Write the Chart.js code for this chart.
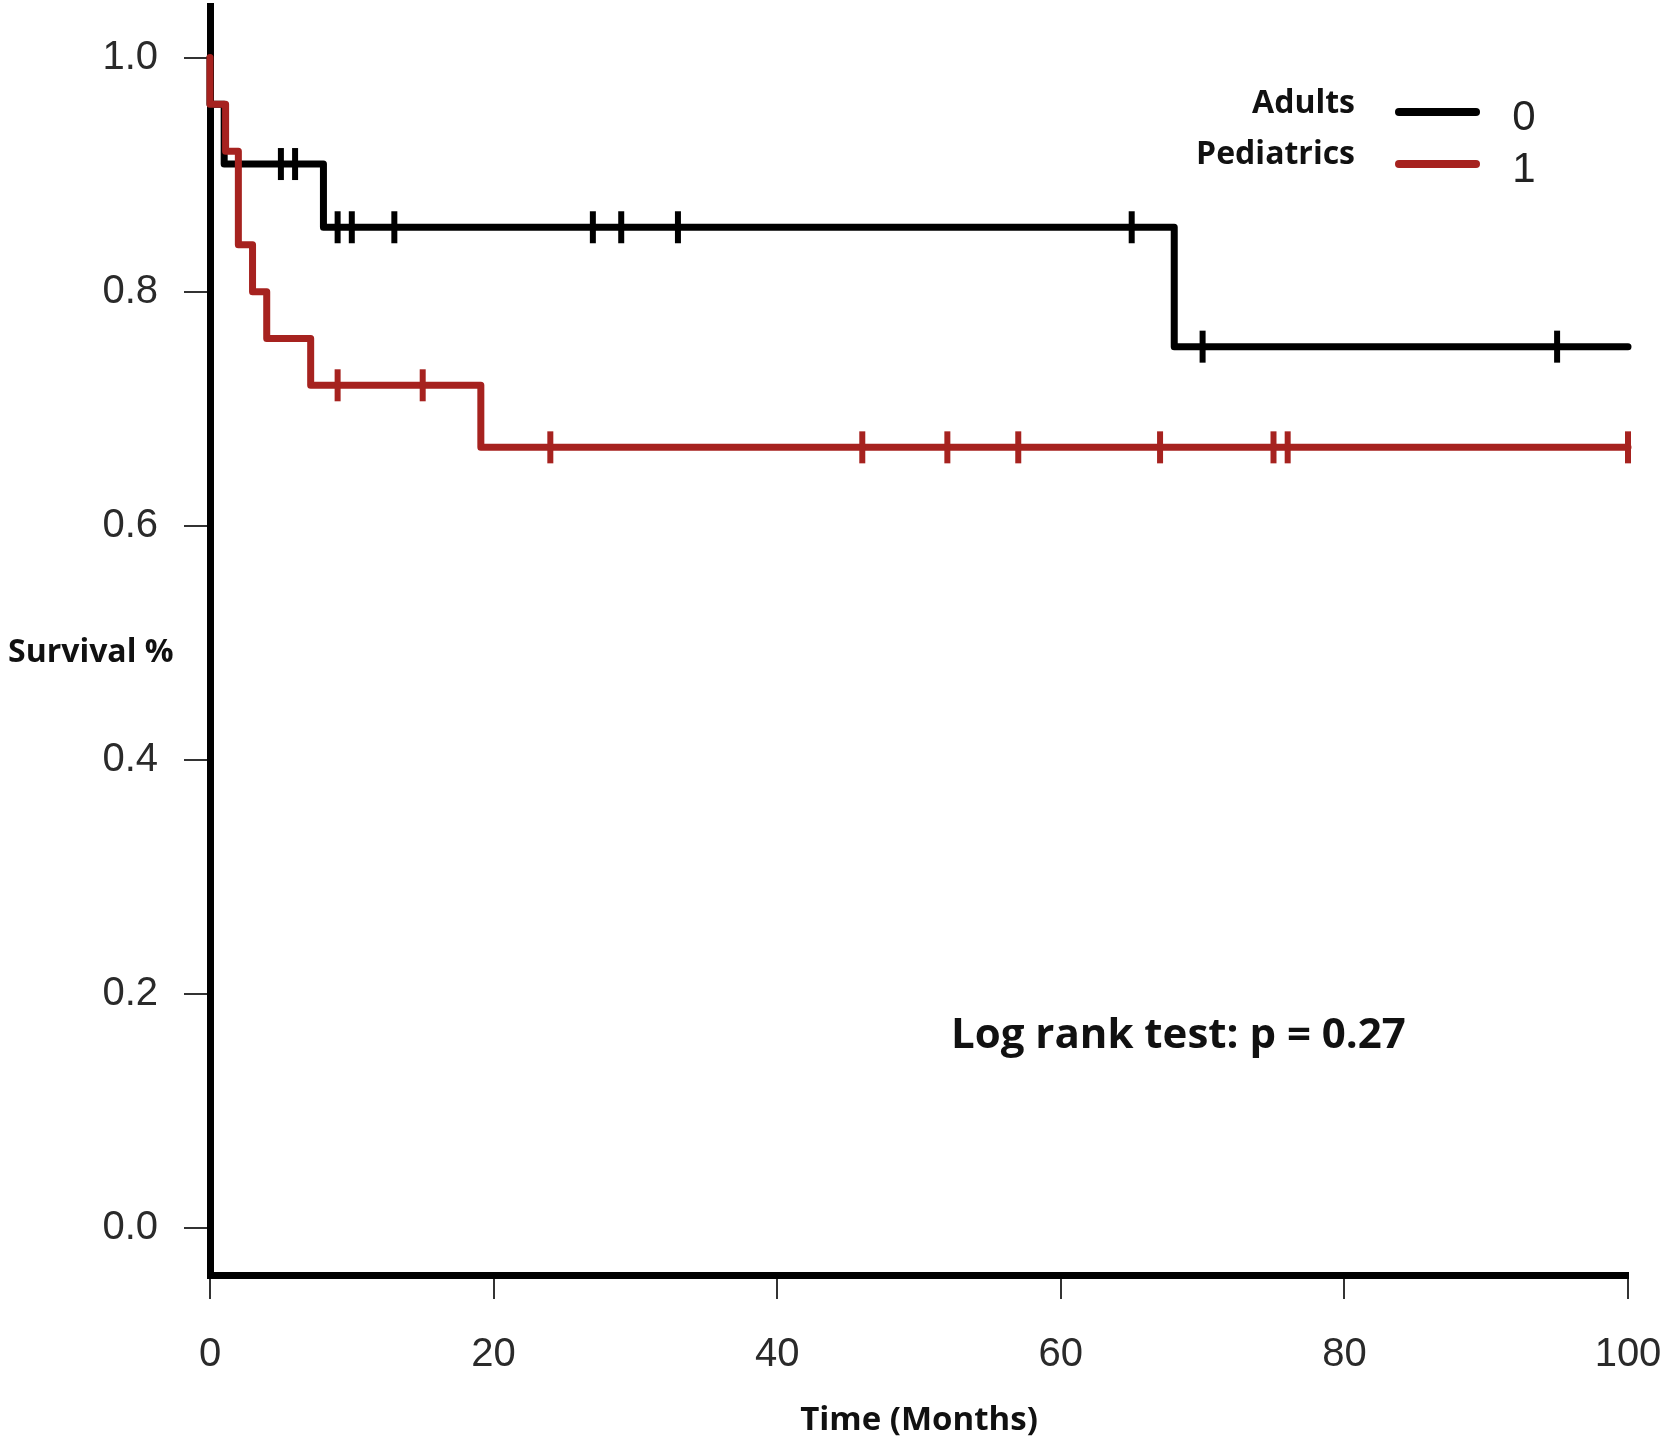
<!DOCTYPE html>
<html>
<head>
<meta charset="utf-8">
<script src="https://cdn.jsdelivr.net/npm/chart.js@4.4.1/dist/chart.umd.min.js"></script>
<style>
  html, body { margin: 0; padding: 0; background: #ffffff; }
  #wrap { position: relative; width: 1667px; height: 1448px; }
</style>
</head>
<body>
<div id="wrap"><canvas id="c"></canvas></div>
<script>
// ---- Data ----
const xTickValues = [0, 20, 40, 60, 80, 100];
const yTickValues = [0.0, 0.2, 0.4, 0.6, 0.8, 1.0];

// Adults (group 0): step times (months) and survival after each step
const adultTimes = [0, 0, 1.0, 8.0, 68.0, 100];
const adultSurv  = [1.0, 0.96, 0.909, 0.855, 0.753, 0.753];
const adultCensorTimes = [5, 6, 9, 10, 13, 27, 29, 33, 65, 70, 95];

// Pediatrics (group 1)
const pedTimes = [0, 0, 1.1, 2.0, 3.0, 4.0, 7.1, 19.1, 100];
const pedSurv  = [1.0, 0.96, 0.92, 0.84, 0.80, 0.76, 0.72, 0.667, 0.667];
const pedCensorTimes = [9, 15, 24, 46, 52, 57, 67, 75, 76, 100];

const legendLabels = ['Adults', 'Pediatrics'];
const legendCodes = ['0', '1'];
const yTitle = 'Survival %';
const xTitle = 'Time (Months)';
const noteText = 'Log rank test: p = 0.27';

// ---- Helpers ----
const BLACK = '#000000';
const RED = '#a6221f';

function stepPoints(times, surv) {
  return times.map((t, i) => ({ x: t, y: surv[i] }));
}
function survivalAt(times, surv, t) {
  let v = surv[0];
  for (let i = 0; i < times.length; i++) { if (times[i] <= t) v = surv[i]; }
  return v;
}
function censorPoints(ct, times, surv) {
  return ct.map(t => ({ x: t, y: survivalAt(times, surv, t) }));
}

const textPlugin = {
  id: 'texts',
  afterDraw(chart) {
    const ctx = chart.ctx;
    ctx.save();
    ctx.fillStyle = '#111111';
    ctx.textBaseline = 'alphabetic';

    ctx.font = 'bold 32px "Open Sans"';
    ctx.textAlign = 'left';
    ctx.fillText(yTitle, 8, 662);

    ctx.font = 'bold 33px "Open Sans"';
    ctx.textAlign = 'center';
    ctx.fillText(xTitle, 919, 1430);

    ctx.font = 'bold 42px "Open Sans"';
    ctx.textAlign = 'left';
    ctx.fillText(noteText, 951, 1048);

    // legend
    ctx.font = 'bold 32px "Open Sans"';
    ctx.textAlign = 'right';
    ctx.fillText(legendLabels[0], 1355, 113);
    ctx.fillText(legendLabels[1], 1355, 164);

    ctx.lineCap = 'round';
    ctx.lineWidth = 8;
    ctx.strokeStyle = BLACK;
    ctx.beginPath(); ctx.moveTo(1399, 112); ctx.lineTo(1476, 112); ctx.stroke();
    ctx.strokeStyle = RED;
    ctx.beginPath(); ctx.moveTo(1399, 164); ctx.lineTo(1476, 164); ctx.stroke();

    ctx.fillStyle = '#222222';
    ctx.font = '42px "Liberation Sans"';
    ctx.textAlign = 'center';
    ctx.fillText(legendCodes[0], 1524, 130);
    ctx.fillText(legendCodes[1], 1524, 182);
    ctx.restore();
  }
};

const tickFont = { family: '"Liberation Sans", Arial, sans-serif', size: 40 };

function censorDataset(label, pts, color) {
  return {
    label: label,
    data: pts,
    showLine: false,
    pointStyle: 'line',
    pointRotation: 90,
    pointRadius: 16,
    pointHoverRadius: 16,
    pointBorderWidth: 6,
    pointHoverBorderWidth: 6,
    pointBorderColor: color,
    pointBackgroundColor: color,
    borderColor: color,
    clip: false
  };
}
function curveDataset(label, pts, color) {
  return {
    label: label,
    data: pts,
    stepped: true,
    borderColor: color,
    borderWidth: 7,
    pointRadius: 0,
    pointHoverRadius: 0,
    fill: false,
    clip: false,
    borderCapStyle: 'round',
    borderJoinStyle: 'round'
  };
}

new Chart(document.getElementById('c'), {
  type: 'line',
  data: {
    datasets: [
      censorDataset('Pediatrics censored', censorPoints(pedCensorTimes, pedTimes, pedSurv), RED),
      curveDataset('Pediatrics', stepPoints(pedTimes, pedSurv), RED),
      censorDataset('Adults censored', censorPoints(adultCensorTimes, adultTimes, adultSurv), BLACK),
      curveDataset('Adults', stepPoints(adultTimes, adultSurv), BLACK)
    ]
  },
  options: {
    responsive: true,
    maintainAspectRatio: false,
    animation: false,
    devicePixelRatio: 1,
    layout: { autoPadding: false, padding: { top: 6, right: 39, left: 0, bottom: 0 } },
    plugins: { legend: { display: false }, tooltip: { enabled: false } },
    scales: {
      x: {
        type: 'linear',
        min: 0,
        max: 100,
        afterBuildTicks: s => { s.ticks = xTickValues.map(v => ({ value: v })); },
        ticks: {
          font: tickFont, color: '#2a2a2a', padding: 32, maxRotation: 0, autoSkip: false,
          callback: v => String(v)
        },
        grid: { display: true, drawOnChartArea: false, drawTicks: true, tickLength: 24, lineWidth: 2, color: '#333333' },
        border: { display: true, width: 7, color: '#000000' },
        afterFit: s => { s.height = 173; s.paddingLeft = 0; s.paddingRight = 0; }
      },
      y: {
        type: 'linear',
        min: -0.04,
        max: 1.044,
        afterBuildTicks: s => { s.ticks = yTickValues.map(v => ({ value: v })); },
        ticks: {
          font: tickFont, color: '#2a2a2a', padding: 26, autoSkip: false,
          callback: v => Number(v).toFixed(1)
        },
        grid: { display: true, drawOnChartArea: false, drawTicks: true, tickLength: 26, lineWidth: 2, color: '#333333' },
        border: { display: true, width: 7, color: '#000000' },
        afterFit: s => { s.width = 210; s.paddingTop = 0; s.paddingBottom = 0; }
      }
    }
  },
  plugins: [textPlugin]
});
</script>
</body>
</html>
